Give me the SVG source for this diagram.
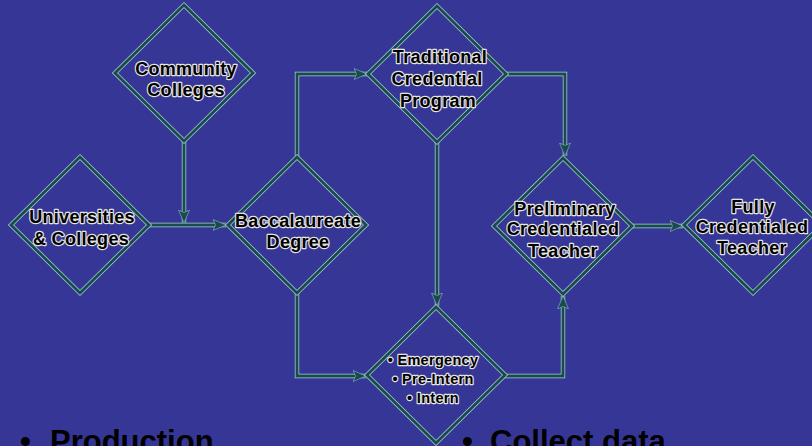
<svg xmlns="http://www.w3.org/2000/svg" width="812" height="446" viewBox="0 0 812 446">
  <defs>
    <style>
      .bg { fill: #363696; }
      .edge-lt { fill: none; stroke: #a9d2ce; stroke-width: 4.4; stroke-linejoin: miter; }
      .edge-dk { fill: none; stroke: #194a50; stroke-width: 2.9; stroke-linejoin: miter; }
      .lbl { font-family: "Liberation Sans", Arial, sans-serif; font-weight: bold; font-size: 18px;
             fill: #000; stroke: #e4e4e4; stroke-width: 2.4; paint-order: stroke; stroke-linejoin: round;
             text-anchor: middle; letter-spacing: 0.3px; }
      .lbl-sm { font-size: 14.5px; }
      .bullet { font-family: "Liberation Sans", Arial, sans-serif; font-weight: bold; font-size: 31px; fill: #000; }
    </style>
    <marker id="arrow" markerUnits="userSpaceOnUse" markerWidth="16" markerHeight="14"
            refX="13" refY="6" orient="auto">
      <path d="M0,0.5 L13,6 L0,11.5 L2.5,6 Z" fill="#194a50" stroke="#a9d2ce" stroke-width="0.5"/>
    </marker>
    <path id="dia" d="M0,-68 L69,0 L0,68 L-69,0 Z"/>
  </defs>

  <rect class="bg" x="0" y="0" width="812" height="446"/>

  <!-- connectors -->
  <g id="connectors">
    <g class="edge-lt">
      <path d="M184,141 V223"/>
      <path d="M148,225 H226"/>
      <path d="M297,157 V74 H367"/>
      <path d="M506,74 H565 V156"/>
      <path d="M437,142 V306"/>
      <path d="M297,293 V376 H366"/>
      <path d="M504,376 H563 V296"/>
      <path d="M632,226 H683"/>
    </g>
    <g class="edge-dk">
      <path d="M184,141 V223" marker-end="url(#arrow)"/>
      <path d="M148,225 H226" marker-end="url(#arrow)"/>
      <path d="M297,157 V74 H367" marker-end="url(#arrow)"/>
      <path d="M506,74 H565 V156" marker-end="url(#arrow)"/>
      <path d="M437,142 V306" marker-end="url(#arrow)"/>
      <path d="M297,293 V376 H366" marker-end="url(#arrow)"/>
      <path d="M504,376 H563 V296" marker-end="url(#arrow)"/>
      <path d="M632,226 H683" marker-end="url(#arrow)"/>
    </g>
  </g>

  <!-- nodes -->
  <g id="community-colleges" transform="translate(184,73)">
    <use href="#dia" class="edge-lt"/><use href="#dia" class="edge-dk"/>
    <text class="lbl" x="2" y="2">Community</text>
    <text class="lbl" x="2" y="23">Colleges</text>
  </g>

  <g id="universities-colleges" transform="translate(80,225)">
    <use href="#dia" class="edge-lt"/><use href="#dia" class="edge-dk"/>
    <text class="lbl" x="2" y="-2">Universities</text>
    <text class="lbl" x="1" y="20">&amp; Colleges</text>
  </g>

  <g id="baccalaureate-degree" transform="translate(297,225)">
    <use href="#dia" class="edge-lt"/><use href="#dia" class="edge-dk"/>
    <text class="lbl" x="1" y="2">Baccalaureate</text>
    <text class="lbl" x="1" y="23">Degree</text>
  </g>

  <g id="traditional-credential-program" transform="translate(437,74)">
    <use href="#dia" class="edge-lt"/><use href="#dia" class="edge-dk"/>
    <text class="lbl" x="3" y="-11">Traditional</text>
    <text class="lbl" x="0" y="11">Credential</text>
    <text class="lbl" x="1" y="33">Program</text>
  </g>

  <g id="preliminary-credentialed-teacher" transform="translate(563,226)">
    <use href="#dia" class="edge-lt"/><use href="#dia" class="edge-dk"/>
    <text class="lbl" x="2" y="-11">Preliminary</text>
    <text class="lbl" x="0" y="9">Credentialed</text>
    <text class="lbl" x="0" y="31">Teacher</text>
  </g>

  <g id="fully-credentialed-teacher" transform="translate(753,225)">
    <use href="#dia" class="edge-lt"/><use href="#dia" class="edge-dk"/>
    <text class="lbl" x="0" y="-12">Fully</text>
    <text class="lbl" x="-1" y="8">Credentialed</text>
    <text class="lbl" x="-1" y="29">Teacher</text>
  </g>

  <g id="emergency-intern" transform="translate(436,375)">
    <use href="#dia" class="edge-lt"/><use href="#dia" class="edge-dk"/>
    <text class="lbl lbl-sm" x="-3" y="-10">• Emergency</text>
    <text class="lbl lbl-sm" x="-3" y="9">• Pre-Intern</text>
    <text class="lbl lbl-sm" x="-3" y="28">• Intern</text>
  </g>

  <!-- bullet list along the bottom -->
  <g id="bullets">
    <text class="bullet" x="20" y="452">•</text>
    <text class="bullet" x="50" y="452">Production</text>
    <text class="bullet" x="462" y="452">•</text>
    <text class="bullet" x="490" y="452">Collect data</text>
  </g>
</svg>
